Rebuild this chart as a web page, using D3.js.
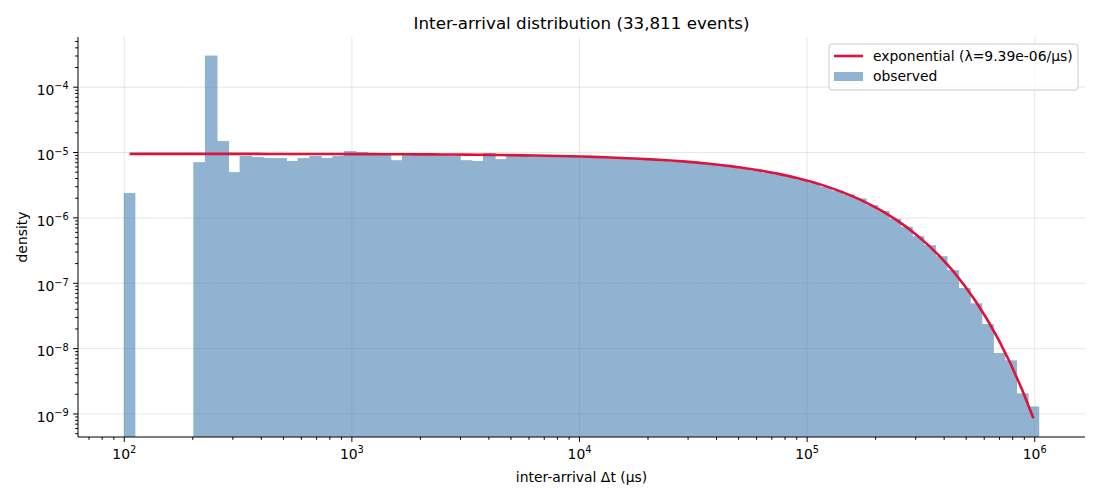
<!DOCTYPE html>
<html lang="en">

<head>
  <meta charset="UTF-8">
  <script src="https://d3js.org/d3.v7.min.js"></script>
  <style>
    html, body {
      margin: 0px;
      padding: 0px;
      background-color: white;
    }

    svg text {
      font-family: "DejaVu Sans", sans-serif;
      fill: black;
    }

    .gridlines line {
      stroke: #b0b0b0;
      stroke-opacity: 0.3;
      stroke-width: 1;
    }

    .gridlines path {
      display: none;
    }
  </style>
</head>

<body>
  <svg id="plot-svg" width="1100" height="500"></svg>

  <script>
    // histogram bins: 79 log-spaced bins between these edges (µs)
    const binLow = 100;
    const binHigh = 1.052e6;
    const binCount = 79;

    // observed density per bin (0 = empty bin)
    const density = [
      2.36e-6, 0, 0, 0, 0, 0, 7.0e-6, 2.99e-4, 1.47e-5, 4.93e-6,
      8.7e-6, 8.4e-6, 8.1e-6, 8.1e-6, 7.3e-6, 8.1e-6, 8.7e-6, 8.1e-6, 8.7e-6, 1.035e-5,
      1.0e-5, 9.6e-6, 9.5e-6, 7.5e-6, 9.0e-6, 9.0e-6, 9.65e-6, 9.0e-6, 8.9e-6, 7.5e-6,
      7.3e-6, 9.66e-6, 7.8e-6, 8.7e-6, 8.75e-6, 8.6e-6, 8.6e-6, 8.5e-6, 8.45e-6, 8.35e-6,
      8.25e-6, 8.1e-6, 8.0e-6, 7.85e-6, 7.65e-6, 7.55e-6, 7.35e-6, 7.1e-6, 6.95e-6, 6.7e-6,
      6.45e-6, 6.15e-6, 5.85e-6, 5.55e-6, 5.2e-6, 4.8e-6, 4.5e-6, 4.12e-6, 3.72e-6, 3.35e-6,
      2.95e-6, 2.57e-6, 2.25e-6, 1.95e-6, 1.54e-6, 1.25e-6, 9.5e-7, 7.16e-7, 5.16e-7, 3.76e-7,
      2.55e-7, 1.56e-7, 8.3e-8, 4.85e-8, 2.33e-8, 8.4e-9, 6.5e-9, 2.03e-9, 1.28e-9
    ];

    // fitted exponential rate (per µs)
    const lambda = 9.39e-6;

    // tick labels (exponents of 10)
    const xExponents = [2, 3, 4, 5, 6];
    const yExponents = [-9, -8, -7, -6, -5, -4];

    const titleText = "Inter-arrival distribution (33,811 events)";
    const xLabel = "inter-arrival Δt (µs)";
    const yLabel = "density";
    const legendLabels = ["exponential (λ=9.39e-06/µs)", "observed"];

    const svg = d3.select("#plot-svg");
    const margin = { top: 37, right: 15, bottom: 63, left: 78 };
    const width = +svg.attr("width");
    const height = +svg.attr("height");
    const fontSize = "13.9px";

    // bin edges and centers (log spaced, like np.logspace)
    const logLo = Math.log10(binLow), logHi = Math.log10(binHigh);
    const edges = d3.range(binCount + 1).map(i => Math.pow(10, logLo + (logHi - logLo) * i / binCount));
    const bins = density.map((v, i) => ({
      x0: edges[i], x1: edges[i + 1],
      xc: Math.sqrt(edges[i] * edges[i + 1]), v: v
    }));

    // padded log domains (matplotlib style 5% margins)
    const xPad = (logHi - logLo) * 0.05;
    const xScale = d3.scaleLog()
      .domain([Math.pow(10, logLo - xPad), Math.pow(10, logHi + xPad)])
      .range([margin.left, width - margin.right]);
    const yScale = d3.scaleLog()
      .domain([Math.pow(10, -9.36), Math.pow(10, -3.24)])
      .range([height - margin.bottom, margin.top]);

    const xMajor = xExponents.map(e => Math.pow(10, e));
    const yMajor = yExponents.map(e => Math.pow(10, e));
    function minorTicks(scale) {
      const [a, b] = scale.domain();
      let out = [];
      for (let e = Math.floor(Math.log10(a)); e <= Math.ceil(Math.log10(b)); e++) {
        for (let m = 2; m <= 9; m++) {
          const v = m * Math.pow(10, e);
          if (v >= a && v <= b) out.push(v);
        }
      }
      return out;
    }

    // gridlines
    svg.append("g").attr("class", "gridlines")
      .attr("transform", `translate(0, ${height - margin.bottom})`)
      .call(d3.axisBottom(xScale).tickValues(xMajor).tickSize(-(height - margin.top - margin.bottom)).tickFormat(""));
    svg.append("g").attr("class", "gridlines")
      .attr("transform", `translate(${margin.left}, 0)`)
      .call(d3.axisLeft(yScale).tickValues(yMajor).tickSize(-(width - margin.left - margin.right)).tickFormat(""));

    // histogram bars (group opacity so neighbouring bars don't double up)
    svg.append("clipPath").attr("id", "plot-clip")
      .append("rect")
      .attr("x", margin.left).attr("y", margin.top)
      .attr("width", width - margin.left - margin.right)
      .attr("height", height - margin.top - margin.bottom);

    const shown = bins.filter(d => d.v > 0);
    svg.append("g")
      .attr("clip-path", "url(#plot-clip)")
      .attr("opacity", 0.6)
      .selectAll("rect.bar")
      .data(shown)
      .join("rect")
      .attr("class", "bar")
      .attr("x", d => xScale(d.x0))
      // overlap the next bar by 1px to hide anti-aliasing seams
      .attr("width", d => xScale(d.x1) - xScale(d.x0) + (density[bins.indexOf(d) + 1] > 0 ? 1 : 0))
      .attr("y", d => yScale(d.v))
      .attr("height", d => height - margin.bottom - yScale(d.v))
      .attr("fill", "steelblue");

    // exponential fit at bin centers
    const line = d3.line()
      .x(d => xScale(d.xc))
      .y(d => yScale(lambda * Math.exp(-lambda * d.xc)));
    svg.append("path")
      .datum(bins)
      .attr("d", line)
      .attr("fill", "none")
      .attr("stroke", "crimson")
      .attr("stroke-width", 2.6);

    // axes
    function supLabel(sel) {
      sel.selectAll(".tick text").each(function (d) {
        const t = d3.select(this).text("");
        t.append("tspan").text("10");
        t.append("tspan").attr("dy", "-0.55em").attr("font-size", "9.8px").text(Math.round(Math.log10(d)).toString().replace("-", "\u2212"));
      });
    }

    const xAxis = svg.append("g")
      .attr("transform", `translate(0, ${height - margin.bottom})`)
      .call(d3.axisBottom(xScale).tickValues(xMajor).tickSize(4.9).tickPadding(3.5).tickSizeOuter(0).tickFormat(() => "x"));
    xAxis.selectAll(".tick text").attr("font-size", fontSize).attr("dy", "0.95em");
    supLabel(xAxis);
    xAxis.select(".domain").attr("d", `M${margin.left},0H${width - margin.right}`);
    svg.append("g")
      .attr("transform", `translate(0, ${height - margin.bottom})`)
      .call(d3.axisBottom(xScale).tickValues(minorTicks(xScale)).tickSize(2.8).tickFormat(""))
      .select(".domain").remove();

    const yAxis = svg.append("g")
      .attr("transform", `translate(${margin.left}, 0)`)
      .call(d3.axisLeft(yScale).tickValues(yMajor).tickSize(4.9).tickPadding(4.3).tickSizeOuter(0).tickFormat(() => "x"));
    yAxis.selectAll(".tick text").attr("font-size", fontSize).attr("dy", "0.55em");
    supLabel(yAxis);
    yAxis.select(".domain").attr("d", `M0,${height - margin.bottom}V${margin.top}`);
    svg.append("g")
      .attr("transform", `translate(${margin.left}, 0)`)
      .call(d3.axisLeft(yScale).tickValues(minorTicks(yScale)).tickSize(2.8).tickFormat(""))
      .select(".domain").remove();

    svg.selectAll(".domain").attr("stroke", "black").attr("stroke-width", 1);

    // titles
    const plotCenter = (margin.left + width - margin.right) / 2;
    svg.append("text")
      .attr("x", plotCenter).attr("y", 29)
      .attr("text-anchor", "middle")
      .attr("font-size", "16.7px")
      .text(titleText);
    svg.append("text")
      .attr("x", plotCenter).attr("y", 482)
      .attr("text-anchor", "middle")
      .attr("font-size", fontSize)
      .text(xLabel);
    svg.append("text")
      .attr("transform", `translate(27, ${(margin.top + height - margin.bottom) / 2}) rotate(-90)`)
      .attr("text-anchor", "middle")
      .attr("font-size", fontSize)
      .text(yLabel);

    // legend
    const legend = svg.append("g").attr("transform", "translate(829, 44)");
    legend.append("rect")
      .attr("width", 249).attr("height", 46)
      .attr("rx", 3)
      .attr("fill", "white").attr("fill-opacity", 0.8)
      .attr("stroke", "#cccccc");
    legend.append("line")
      .attr("x1", 5).attr("x2", 34).attr("y1", 12).attr("y2", 12)
      .attr("stroke", "crimson").attr("stroke-width", 2.6);
    legend.append("rect")
      .attr("x", 5).attr("y", 28).attr("width", 29).attr("height", 9)
      .attr("fill", "steelblue").attr("fill-opacity", 0.6);
    legend.selectAll("text.legend-label")
      .data(legendLabels)
      .join("text")
      .attr("class", "legend-label")
      .attr("x", 44)
      .attr("y", (d, i) => 17 + i * 20)
      .attr("font-size", fontSize)
      .text(d => d);
  </script>
</body>

</html>
